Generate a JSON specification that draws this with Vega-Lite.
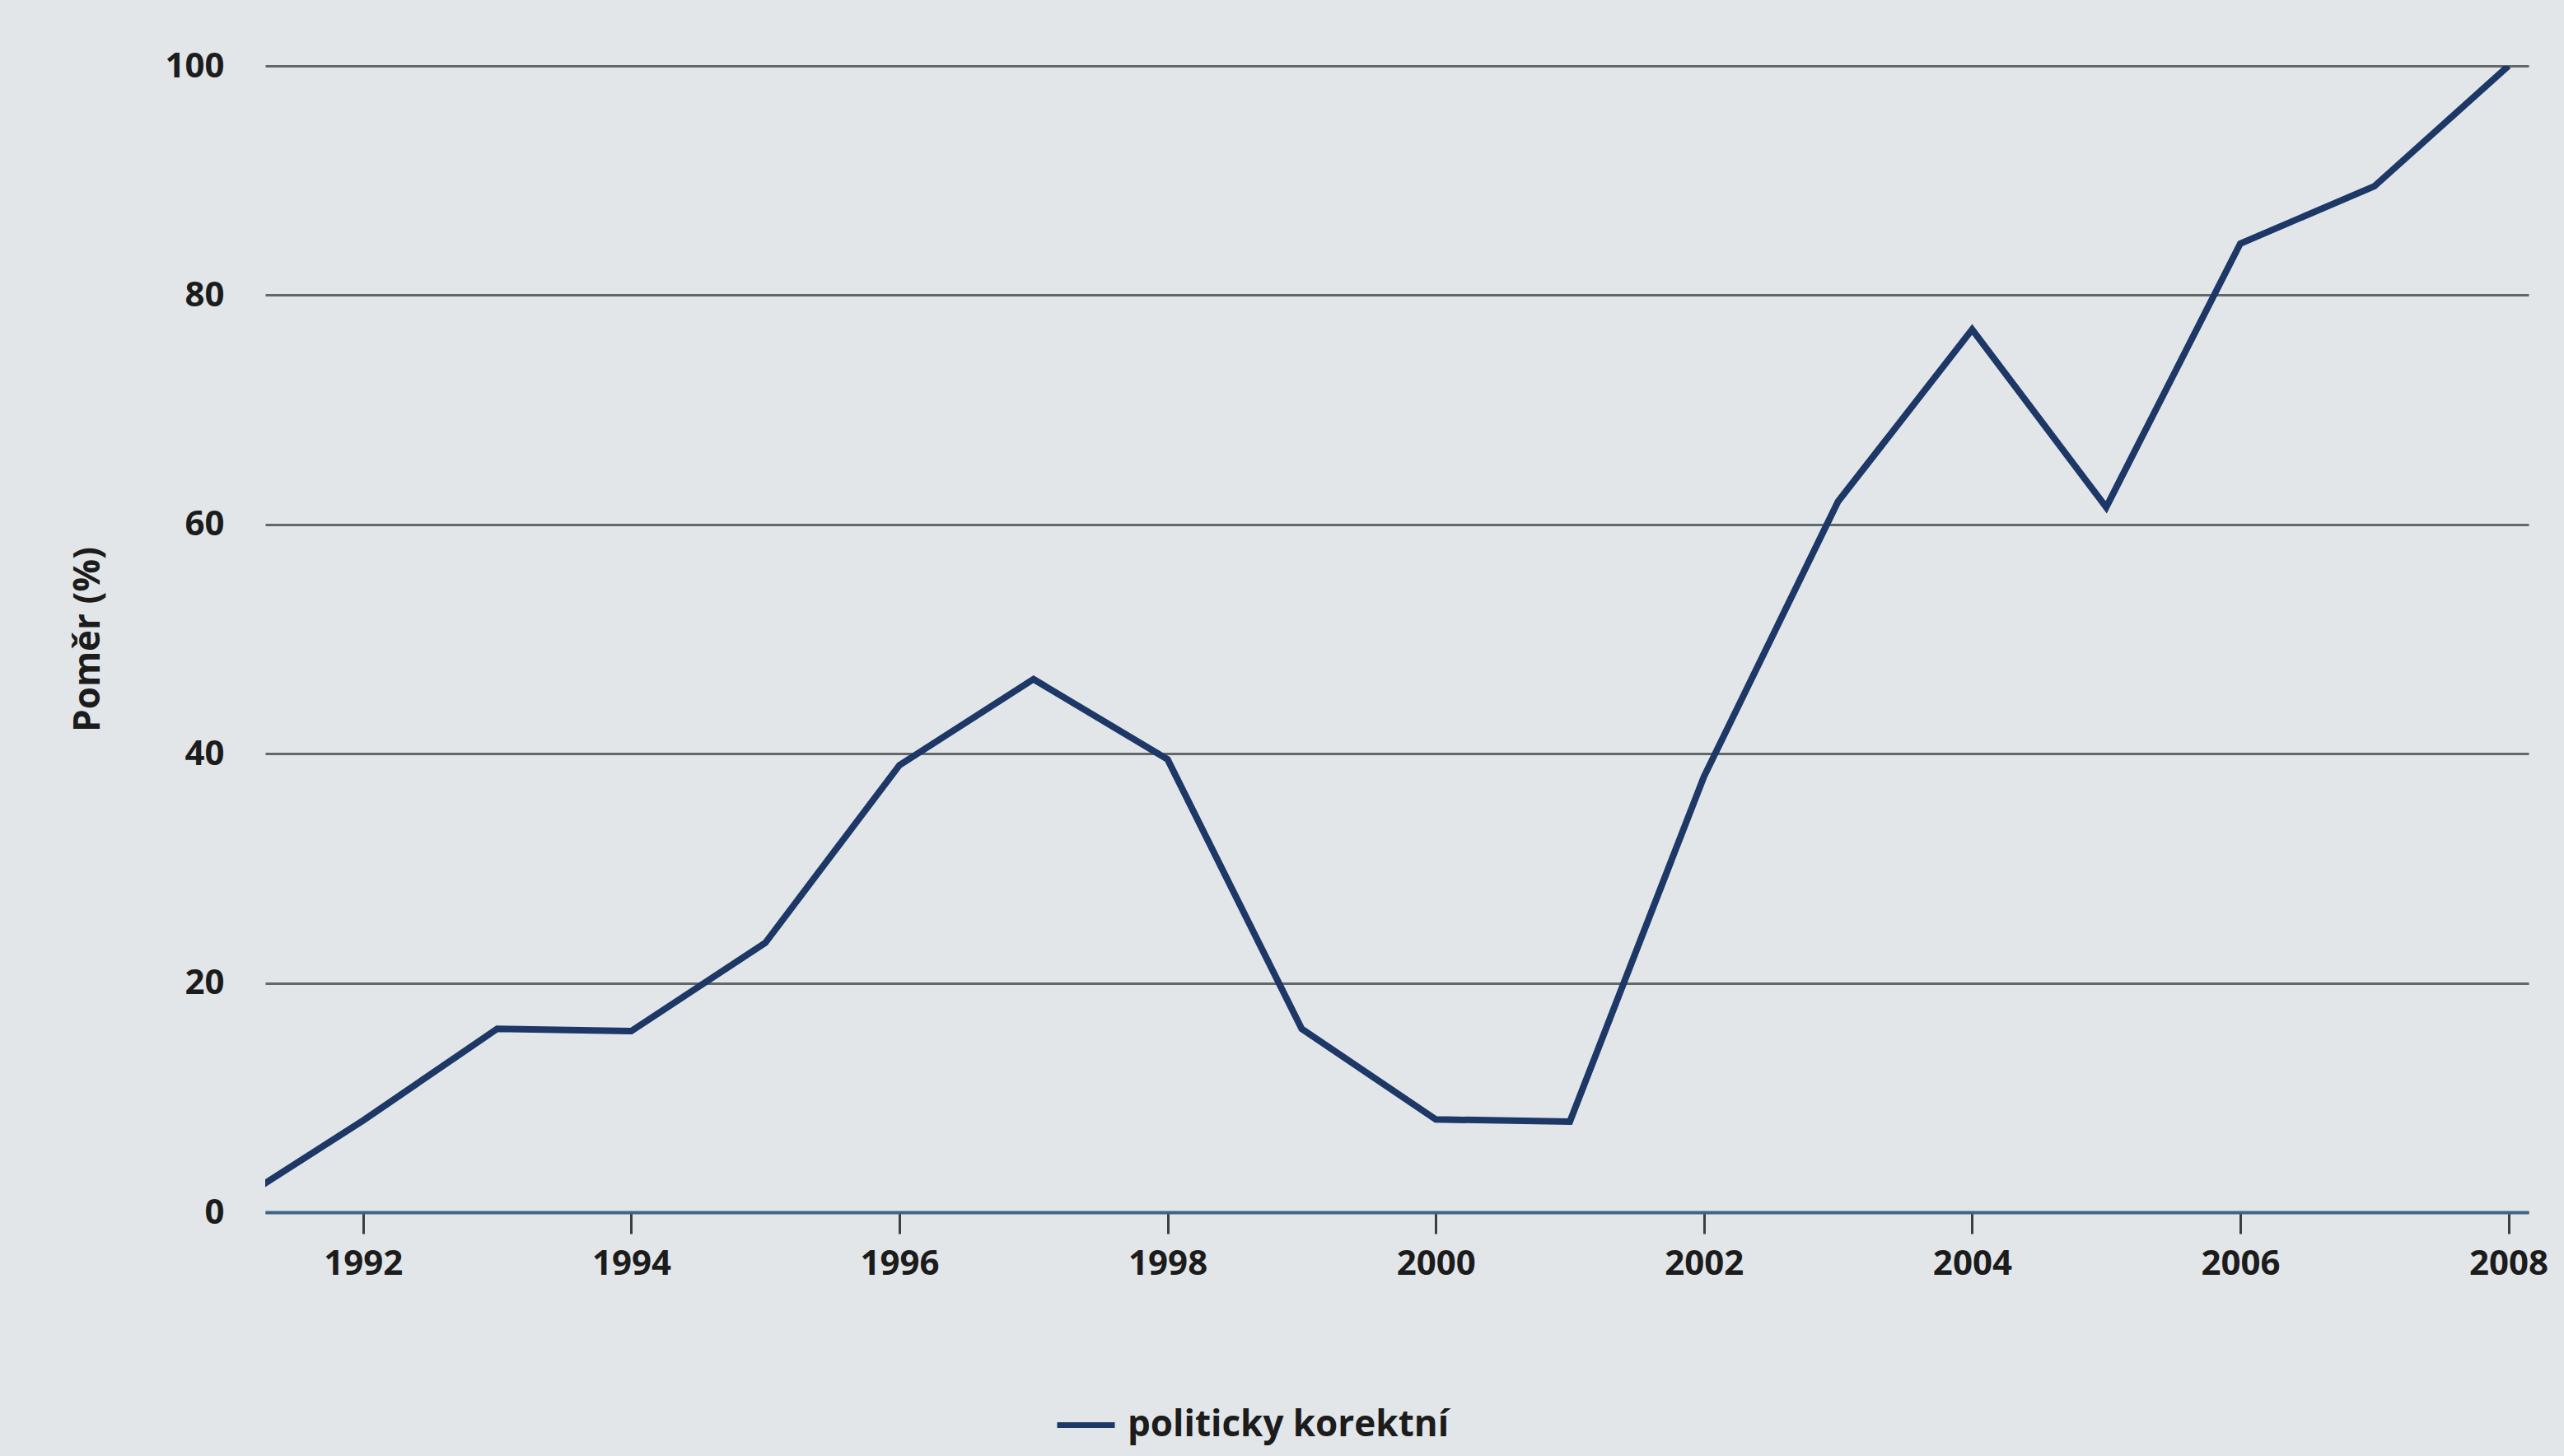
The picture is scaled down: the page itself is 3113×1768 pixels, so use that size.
{
  "$schema": "https://vega.github.io/schema/vega-lite/v6.json",
  "autosize": {"type": "none"},
  "width": 2748,
  "height": 1392,
  "padding": {"left": 322, "top": 80, "right": 43, "bottom": 296},
  "background": "#e2e6e9",
  "config": {
    "view": {"stroke": null},
    "font": "Open Sans"
  },
  "data": {
    "values": [
      {"year": 1991, "value": 0.5, "series": "politicky korektní"},
      {"year": 1992, "value": 8, "series": "politicky korektní"},
      {"year": 1993, "value": 16, "series": "politicky korektní"},
      {"year": 1994, "value": 15.8, "series": "politicky korektní"},
      {"year": 1995, "value": 23.5, "series": "politicky korektní"},
      {"year": 1996, "value": 39, "series": "politicky korektní"},
      {"year": 1997, "value": 46.5, "series": "politicky korektní"},
      {"year": 1998, "value": 39.5, "series": "politicky korektní"},
      {"year": 1999, "value": 16, "series": "politicky korektní"},
      {"year": 2000, "value": 8.1, "series": "politicky korektní"},
      {"year": 2001, "value": 7.9, "series": "politicky korektní"},
      {"year": 2002, "value": 38, "series": "politicky korektní"},
      {"year": 2003, "value": 62, "series": "politicky korektní"},
      {"year": 2004, "value": 77, "series": "politicky korektní"},
      {"year": 2005, "value": 61.5, "series": "politicky korektní"},
      {"year": 2006, "value": 84.5, "series": "politicky korektní"},
      {"year": 2007, "value": 89.5, "series": "politicky korektní"},
      {"year": 2008, "value": 100, "series": "politicky korektní"}
    ]
  },
  "mark": {"type": "line", "strokeWidth": 8, "clip": true, "strokeJoin": "miter"},
  "encoding": {
    "x": {
      "field": "year",
      "type": "quantitative",
      "scale": {"domain": [1991.27, 2008.15], "nice": false, "zero": false},
      "axis": {
        "values": [1992, 1994, 1996, 1998, 2000, 2002, 2004, 2006, 2008],
        "format": "d",
        "title": null,
        "grid": false,
        "domainColor": "#3f6484",
        "domainWidth": 4,
        "tickColor": "#3a3f44",
        "tickWidth": 3,
        "tickSize": 26,
        "labelFont": "Open Sans",
        "labelFontWeight": "bold",
        "labelFontSize": 42,
        "labelColor": "#1c1c1c",
        "labelPadding": 16
      }
    },
    "y": {
      "field": "value",
      "type": "quantitative",
      "scale": {"domain": [0, 100], "nice": false},
      "axis": {
        "values": [0, 20, 40, 60, 80, 100],
        "title": "Poměr (%)",
        "titleFont": "Open Sans",
        "titleFontWeight": "bold",
        "titleFontSize": 44,
        "titleColor": "#1c1c1c",
        "titlePadding": 70,
        "domain": false,
        "ticks": false,
        "grid": true,
        "gridColor": "#62676a",
        "gridWidth": 3,
        "labelFont": "Open Sans",
        "labelFontWeight": "bold",
        "labelFontSize": 42,
        "labelColor": "#1c1c1c",
        "labelPadding": 50
      }
    },
    "color": {
      "field": "series",
      "type": "nominal",
      "scale": {"domain": ["politicky korektní"], "range": ["#1d3866"]},
      "legend": {
        "title": null,
        "orient": "none",
        "legendX": 958,
        "legendY": 1612,
        "symbolType": "stroke",
        "symbolSize": 4900,
        "symbolStrokeWidth": 7,
        "labelFont": "Open Sans",
        "labelFontWeight": "bold",
        "labelFontSize": 44,
        "labelColor": "#1c1c1c",
        "labelOffset": 12,
        "labelLimit": 0
      }
    }
  }
}
